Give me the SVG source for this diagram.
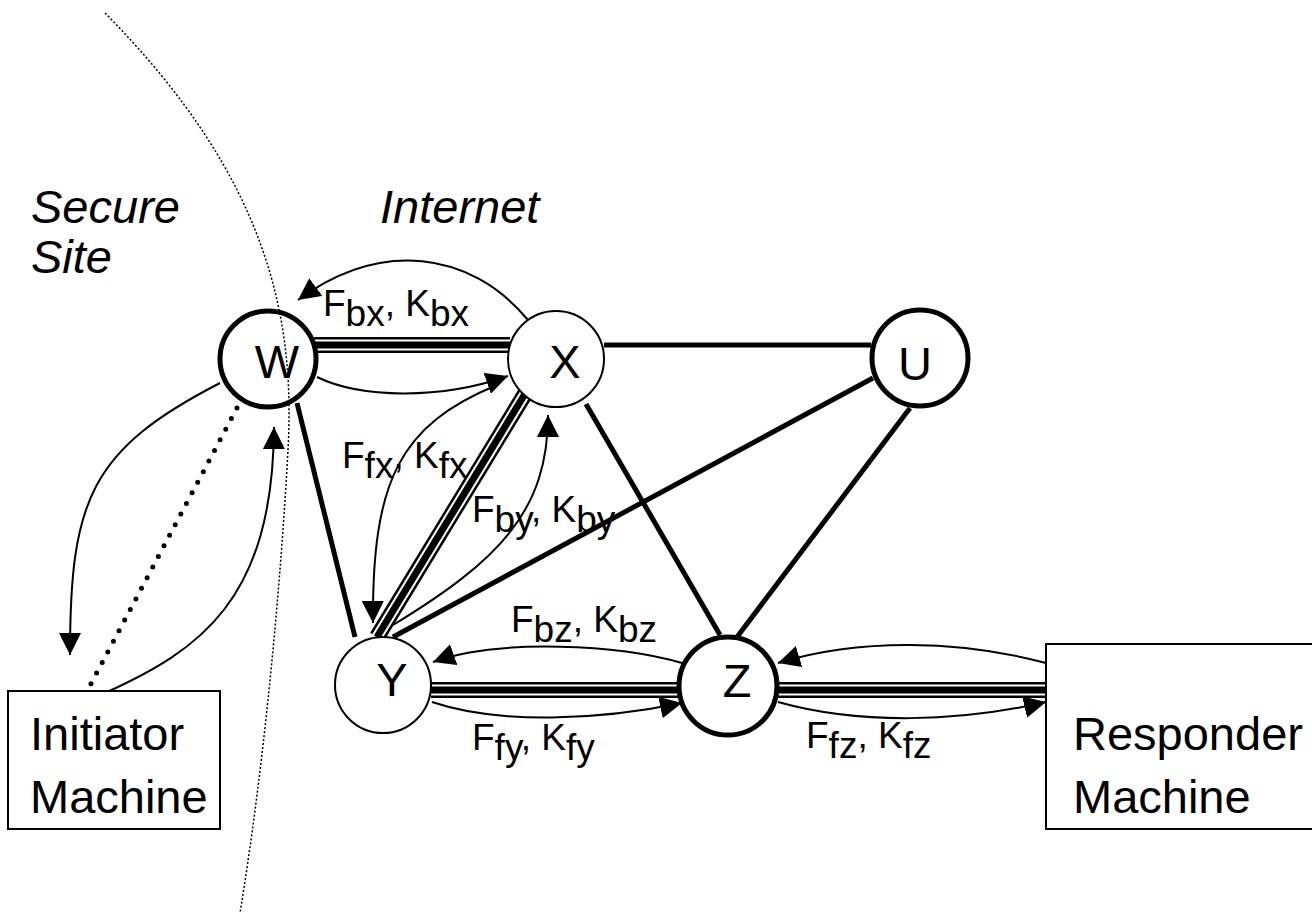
<svg xmlns="http://www.w3.org/2000/svg" xmlns:xlink="http://www.w3.org/1999/xlink" width="1312" height="918" viewBox="0 0 1312 918">
<style>
text{font-family:"Liberation Sans",Arial,sans-serif;fill:#000}
.big{font-size:47px}
.it{font-style:italic}
.lbl{font-size:37px}
.sub{font-size:37px}
.nlabel{font-size:47px;text-anchor:middle}
.thick{stroke:#000;stroke-width:5;fill:none;stroke-linecap:butt}
.arr{stroke:#000;stroke-width:2;fill:none;marker-end:url(#ah)}
.c1{stroke:#000;stroke-width:16;fill:none}
.c2{stroke:#fff;stroke-width:11;fill:none}
.c3{stroke:#000;stroke-width:7;fill:none}
.nthick{fill:#fff;stroke:#000;stroke-width:5}
.nthin{fill:#fff;stroke:#000;stroke-width:2}
.box{fill:#fff;stroke:#000;stroke-width:2}
.bound{fill:none;stroke:#000;stroke-width:1.5;stroke-dasharray:2 2}
.dots{fill:none;stroke:#000;stroke-width:5;stroke-dasharray:0 12;stroke-linecap:round}
</style>
<defs>
<marker id="ah" markerUnits="userSpaceOnUse" markerWidth="22" markerHeight="22" viewBox="0 0 20 20" refX="20" refY="10" orient="auto">
<path d="M0,0 L20,10 L0,20 z" fill="#000"/>
</marker>
<path id="tWX" d="M314,345 L510,345"/>
<path id="tXY" d="M528,389 L377,637"/>
<path id="tYZ" d="M431,690 L680,690"/>
<path id="tZR" d="M777,690 L1046,690"/>
</defs>
<rect width="1312" height="918" fill="#fff"/>

<g id="connectors">
<g id="triple-lines">
<use xlink:href="#tWX" class="c1"/><use xlink:href="#tWX" class="c2"/><use xlink:href="#tWX" class="c3"/>
<use xlink:href="#tXY" class="c1"/><use xlink:href="#tXY" class="c2"/><use xlink:href="#tXY" class="c3"/>
<use xlink:href="#tYZ" class="c1"/><use xlink:href="#tYZ" class="c2"/><use xlink:href="#tYZ" class="c3"/>
<use xlink:href="#tZR" class="c1"/><use xlink:href="#tZR" class="c2"/><use xlink:href="#tZR" class="c3"/>
</g>
<g id="links">
<path class="thick" d="M604,345 L871,345"/>
<path class="thick" d="M586,404 L720,635"/>
<path class="thick" d="M910,408 L737,637"/>
<path class="thick" d="M873,378 L393,637"/>
<path class="thick" d="M297,403 L355,637"/>
</g>
<g id="arrows">
<path class="arr" d="M528,320 C470,250 380,240 298,300"/>
<path class="arr" d="M317,377 C360,398 440,400 508,376"/>
<path class="arr" d="M497,385 C400,425 372,480 373,623"/>
<path class="arr" d="M393,625 C500,560 548,510 548,415"/>
<path class="arr" d="M682,663 C620,645 500,638 433,662"/>
<path class="arr" d="M432,702 C500,725 600,720 682,703"/>
<path class="arr" d="M1046,663 C960,640 860,638 778,663"/>
<path class="arr" d="M778,702 C860,725 960,722 1046,702"/>
<path class="arr" d="M220,383 C90,450 70,500 70,655"/>
<path class="arr" d="M105,693 C200,650 273,600 274,427"/>
<path class="dots" d="M237,408 L85,695"/>
</g>
<g id="edge-labels">
<text class="lbl" x="323" y="316">F<tspan class="sub" dy="10">bx</tspan><tspan dy="-10">, K</tspan><tspan class="sub" dy="10">bx</tspan></text>
<text class="lbl" x="342" y="468">F<tspan class="sub" dy="10">fx</tspan><tspan dy="-10">, K</tspan><tspan class="sub" dy="10">fx</tspan></text>
<text class="lbl" x="472" y="522">F<tspan class="sub" dy="10">by</tspan><tspan dy="-10">, K</tspan><tspan class="sub" dy="10">by</tspan></text>
<text class="lbl" x="511" y="632">F<tspan class="sub" dy="10">bz</tspan><tspan dy="-10">, K</tspan><tspan class="sub" dy="10">bz</tspan></text>
<text class="lbl" x="472" y="750">F<tspan class="sub" dy="10">fy</tspan><tspan dy="-10">, K</tspan><tspan class="sub" dy="10">fy</tspan></text>
<text class="lbl" x="806" y="748">F<tspan class="sub" dy="10">fz</tspan><tspan dy="-10">, K</tspan><tspan class="sub" dy="10">fz</tspan></text>
</g>
</g>

<g id="node-W"><circle class="nthick" cx="268" cy="359" r="48"/><text class="nlabel" x="277" y="378">W</text></g>
<g id="node-X"><circle class="nthin" cx="556" cy="359" r="48"/><text class="nlabel" x="565" y="378">X</text></g>
<g id="node-U"><circle class="nthick" cx="920" cy="358" r="48"/><text class="nlabel" x="915" y="380">U</text></g>
<g id="node-Y"><circle class="nthin" cx="383" cy="685" r="48"/><text class="nlabel" x="392" y="696">Y</text></g>
<g id="node-Z"><circle class="nthick" cx="728" cy="686" r="49"/><text class="nlabel" x="737" y="697">Z</text></g>
<g id="node-initiator"><rect class="box" x="8" y="691" width="212" height="138"/><text class="big" x="30" y="750">Initiator</text><text class="big" x="30" y="813">Machine</text></g>
<g id="node-responder"><rect class="box" x="1046" y="644" width="300" height="185"/><text class="big" x="1073" y="750">Responder</text><text class="big" x="1073" y="813">Machine</text></g>

<g id="regions">
<path class="bound" d="M105,13 C270,180 295,320 288,450 C281,580 265,760 240,913"/>
<text class="big it" x="31" y="223">Secure</text>
<text class="big it" x="31" y="273">Site</text>
<text class="big it" x="380" y="223">Internet</text>
</g>
</svg>
